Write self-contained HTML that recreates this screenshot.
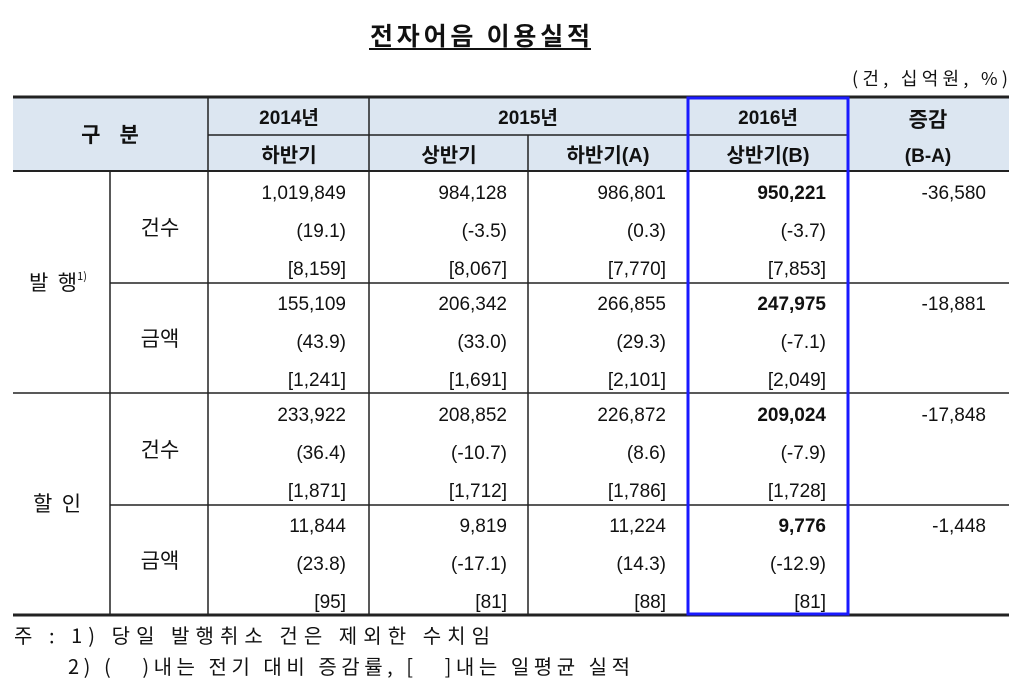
<!DOCTYPE html>
<html><head><meta charset="utf-8"><style>
body{margin:0;background:#fff;}
svg{display:block;}
text{font-family:"Liberation Sans","Noto Sans CJK KR",sans-serif;fill:#111;}
.k{font-family:"Noto Sans CJK KR","Liberation Sans",sans-serif;}
</style></head><body>
<svg width="1024" height="690" viewBox="0 0 1024 690" xmlns="http://www.w3.org/2000/svg">
<text class="k" x="370" y="45" font-size="25" font-weight="bold" textLength="220" lengthAdjust="spacing">전자어음 이용실적</text>
<line x1="369" y1="49" x2="591" y2="49" stroke="#111" stroke-width="2"/>
<text class="k" x="852" y="85" font-size="18" textLength="156" lengthAdjust="spacing">(건, 십억원, %)</text>
<rect x="13" y="97" width="996" height="74" fill="#dce6f1"/>
<g stroke="#222" stroke-width="1.5">
<line x1="13" y1="97" x2="1009" y2="97" stroke-width="3"/>
<line x1="208" y1="135" x2="848" y2="135"/>
<line x1="13" y1="171" x2="1009" y2="171" stroke-width="2"/>
<line x1="110" y1="283" x2="1009" y2="283"/>
<line x1="13" y1="393" x2="1009" y2="393"/>
<line x1="110" y1="505" x2="1009" y2="505"/>
<line x1="13" y1="615" x2="1009" y2="615" stroke-width="3"/>
<line x1="110" y1="171" x2="110" y2="615"/>
<line x1="208" y1="97" x2="208" y2="615"/>
<line x1="369" y1="97" x2="369" y2="615"/>
<line x1="528" y1="135" x2="528" y2="615"/>
</g>
<rect x="688" y="98" width="160" height="516" fill="none" stroke="#1a1aff" stroke-width="3"/>
<g font-size="19" font-weight="bold" text-anchor="middle">
<text class="k" x="110" y="142" font-size="21">구&#160;&#160;&#160;&#160;분</text>
<text x="289" y="124">2014년</text>
<text x="528" y="124">2015년</text>
<text x="768" y="124">2016년</text>
<text class="k" x="928" y="127" font-size="21">증감</text>
<text x="289" y="162" font-size="20">하반기</text>
<text x="449" y="162" font-size="20">상반기</text>
<text x="608" y="162" font-size="20">하반기(A)</text>
<text x="768" y="162" font-size="20">상반기(B)</text>
<text x="928" y="162">(B-A)</text>
</g>
<g font-size="21" text-anchor="middle" class="k">
<text class="k" x="160" y="235">건수</text>
<text class="k" x="160" y="346">금액</text>
<text class="k" x="160" y="457">건수</text>
<text class="k" x="160" y="568">금액</text>
<text class="k" x="58" y="290">발&#160;&#160;행<tspan font-size="11" dy="-10">1)</tspan></text>
<text class="k" x="57" y="511">할&#160;&#160;인</text>
</g>
<g font-size="19" text-anchor="end">
<text x="346" y="199">1,019,849</text><text x="507" y="199">984,128</text><text x="666" y="199">986,801</text><text x="826" y="199" font-weight="bold">950,221</text><text x="986" y="199">-36,580</text>
<text x="346" y="237">(19.1)</text><text x="507" y="237">(-3.5)</text><text x="666" y="237">(0.3)</text><text x="826" y="237">(-3.7)</text>
<text x="346" y="275">[8,159]</text><text x="507" y="275">[8,067]</text><text x="666" y="275">[7,770]</text><text x="826" y="275">[7,853]</text>

<text x="346" y="310">155,109</text><text x="507" y="310">206,342</text><text x="666" y="310">266,855</text><text x="826" y="310" font-weight="bold">247,975</text><text x="986" y="310">-18,881</text>
<text x="346" y="348">(43.9)</text><text x="507" y="348">(33.0)</text><text x="666" y="348">(29.3)</text><text x="826" y="348">(-7.1)</text>
<text x="346" y="386">[1,241]</text><text x="507" y="386">[1,691]</text><text x="666" y="386">[2,101]</text><text x="826" y="386">[2,049]</text>

<text x="346" y="421">233,922</text><text x="507" y="421">208,852</text><text x="666" y="421">226,872</text><text x="826" y="421" font-weight="bold">209,024</text><text x="986" y="421">-17,848</text>
<text x="346" y="459">(36.4)</text><text x="507" y="459">(-10.7)</text><text x="666" y="459">(8.6)</text><text x="826" y="459">(-7.9)</text>
<text x="346" y="497">[1,871]</text><text x="507" y="497">[1,712]</text><text x="666" y="497">[1,786]</text><text x="826" y="497">[1,728]</text>

<text x="346" y="532">11,844</text><text x="507" y="532">9,819</text><text x="666" y="532">11,224</text><text x="826" y="532" font-weight="bold">9,776</text><text x="986" y="532">-1,448</text>
<text x="346" y="570">(23.8)</text><text x="507" y="570">(-17.1)</text><text x="666" y="570">(14.3)</text><text x="826" y="570">(-12.9)</text>
<text x="346" y="608">[95]</text><text x="507" y="608">[81]</text><text x="666" y="608">[88]</text><text x="826" y="608">[81]</text>
</g>
<text class="k" x="14" y="643" font-size="20" textLength="476" lengthAdjust="spacing">주 : 1) 당일 발행취소 건은 제외한 수치임</text>
<text class="k" x="68" y="674" font-size="20" textLength="562" lengthAdjust="spacing">2) (&#160;&#160;&#160;)내는 전기 대비 증감률, [&#160;&#160;&#160;]내는 일평균 실적</text>
</svg>
</body></html>
